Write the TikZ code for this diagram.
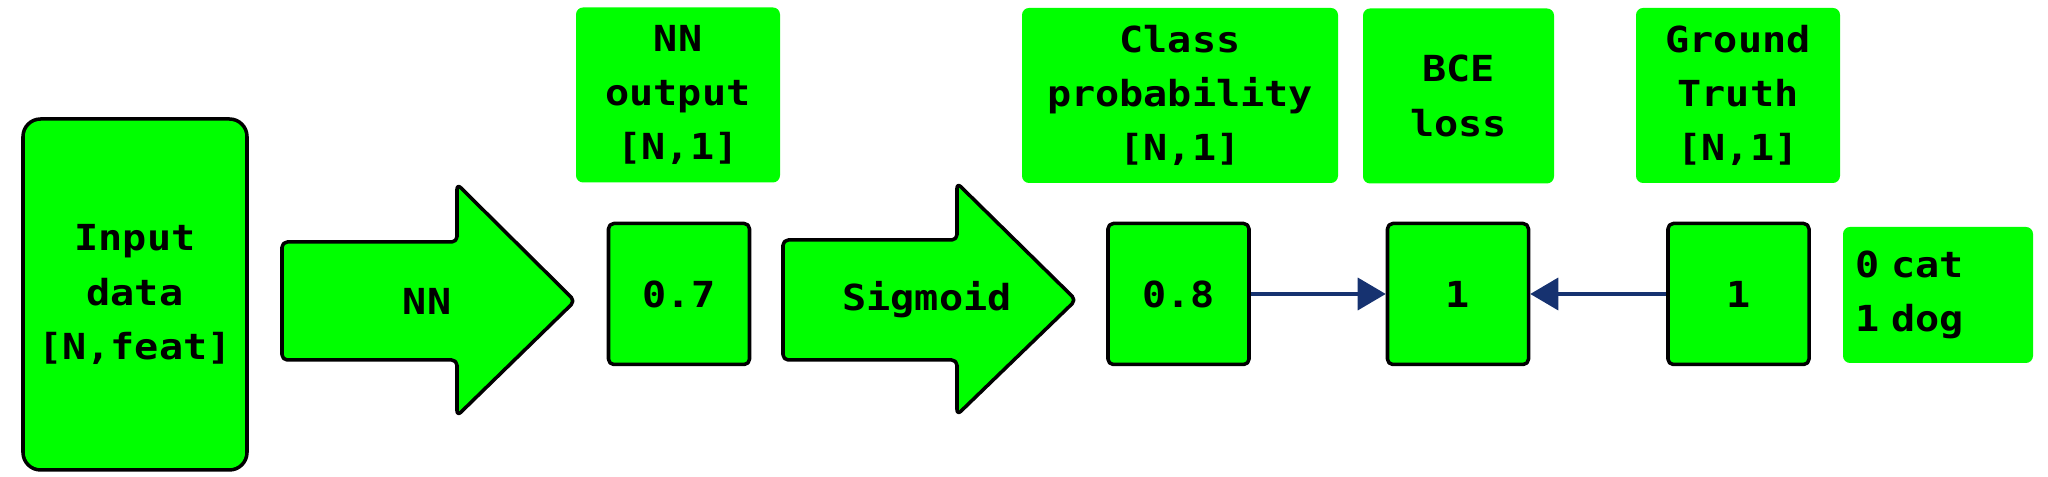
\documentclass[tikz,border=0pt]{standalone}
\usepackage{fontspec}
\setmonofont[FakeStretch=1.12]{DejaVu Sans Mono}
\usetikzlibrary{arrows.meta}
\definecolor{boxgreen}{RGB}{0,255,0}
\definecolor{linkblue}{RGB}{22,50,112}
\begin{document}
\begin{tikzpicture}[
    font=\ttfamily\bfseries\fontsize{10.2pt}{15.4pt}\selectfont,
    sketch/.style={draw=black, line width=1pt, fill=boxgreen, rounded corners=1.5pt, line join=round},
    valbox/.style={sketch, minimum width=1.41cm, minimum height=1.41cm, inner sep=0pt},
    lblbox/.style={fill=boxgreen, rounded corners=2pt, align=center, inner sep=0pt, minimum height=1.75cm},
    link/.style={draw=linkblue, line width=1pt, -{Triangle[length=0.28cm,width=0.32cm]}}
]
            \useasboundingbox (0,0) rectangle (20.48,4.77);

            % input
            \node[sketch, rounded corners=5pt, minimum width=2.24cm, minimum height=3.51cm, align=center] (In) at (1.35,1.825) {Input\\data\\{}[N,feat]};

            % big arrows
            \draw[sketch] (2.82,1.17) -- (4.57,1.17) -- (4.57,0.61) -- (5.75,1.76) -- (4.57,2.93) -- (4.57,2.35) -- (2.82,2.35) -- cycle;
            \node (NN) at (4.27,1.76) {NN};
            \draw[sketch] (7.83,1.17) -- (9.57,1.17) -- (9.57,0.62) -- (10.76,1.77) -- (9.57,2.94) -- (9.57,2.37) -- (7.83,2.37) -- cycle;
            \node (Sig) at (9.27,1.77) {Sigmoid};

            % values
            \node[valbox] (Out) at (6.79,1.83) {0.7};
            \node[valbox] (Prob) at (11.785,1.83) {0.8};
            \node[valbox] (Loss) at (14.58,1.83) {1};
            \node[valbox] (Truth) at (17.385,1.83) {1};
            \node[fill=boxgreen, rounded corners=2pt, text width=1.66cm, inner xsep=0.12cm, minimum height=1.36cm, align=left] (Key) at (19.38,1.82) {0 cat\\1 dog};

            % labels
            \node[lblbox, minimum width=2.04cm] (OutLbl) at (6.78,3.82) {NN\\output\\{}[N,1]};
            \node[lblbox, minimum width=3.16cm] (ProbLbl) at (11.80,3.815) {Class\\probability\\{}[N,1]};
            \node[lblbox, minimum width=1.91cm] (LossLbl) at (14.585,3.81) {BCE\\loss};
            \node[lblbox, minimum width=2.04cm] (TruthLbl) at (17.38,3.815) {Ground\\Truth\\{}[N,1]};

            \draw[link] (Prob) -- (Loss);
            \draw[link] (Truth) -- (Loss);

        \end{tikzpicture}
\end{document}
